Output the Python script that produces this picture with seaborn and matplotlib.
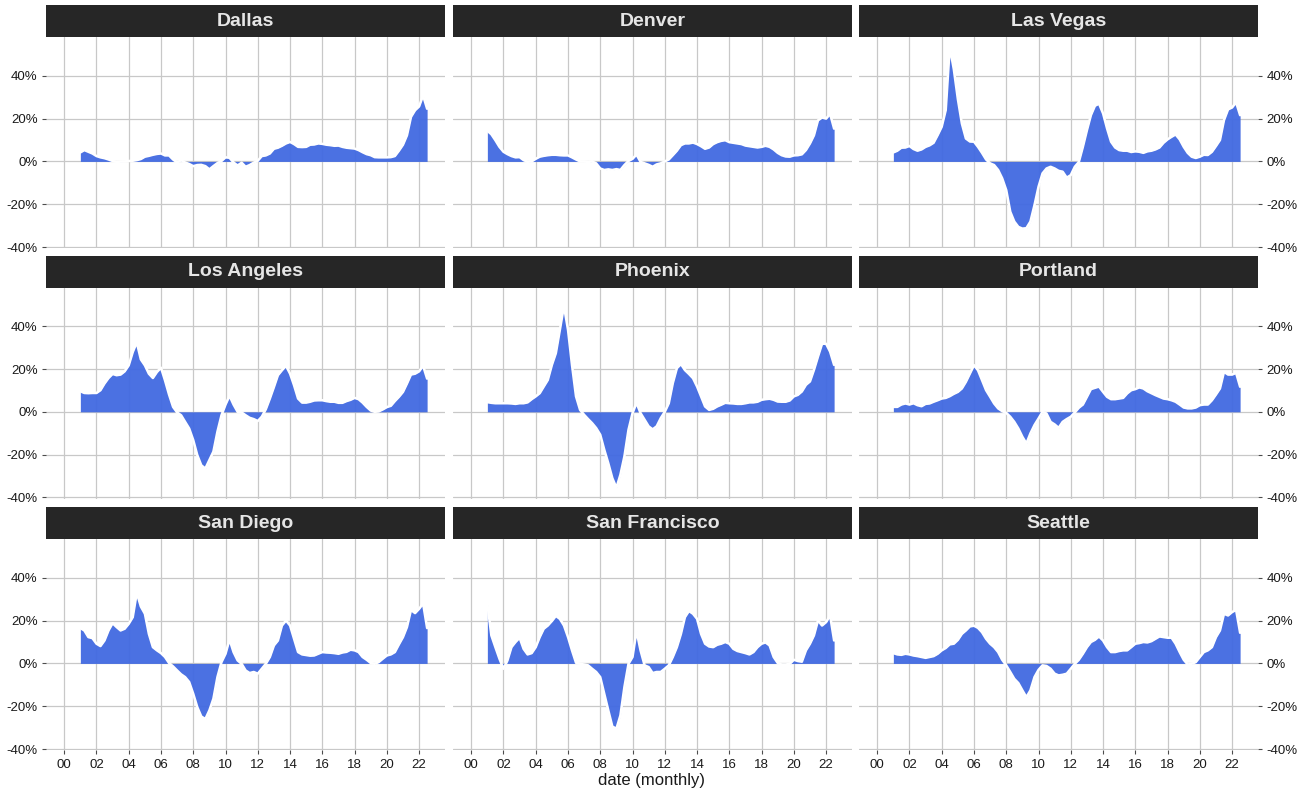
import numpy as np
import pandas as pd
import matplotlib
matplotlib.use("Agg")
import matplotlib.pyplot as plt
from matplotlib.patches import Rectangle
import seaborn as sns

# ---- data: year-over-year change in home prices (%), quarterly, Jan 2001 .. Jul 2022
cities = ["Dallas", "Denver", "Las Vegas",
          "Los Angeles", "Phoenix", "Portland",
          "San Diego", "San Francisco", "Seattle"]

dates = pd.date_range("2001-01-01", "2022-07-01", freq="QS")

dallas = [4.2, 5.3, 4.5, 3.7, 2.5, 1.9, 1.5, 0.9, 0.2, -0.3, -0.1, 0.0,
          0.2, 0.3, 0.6, 1.1, 2.2, 2.6, 3.1, 3.5, 3.7, 2.8, 2.8, 0.9,
          -0.5, 0.5, -0.5, -1.2, -2.2, -1.7, -1.6, -2.2, -3.7, -2.2, -0.8, 0.2,
          1.9, 1.7, -0.5, -1.9, -0.6, -2.5, -1.7, -0.6, 0.3, 2.5, 2.8, 3.7,
          5.9, 6.4, 7.3, 8.4, 9.1, 8.1, 6.8, 6.7, 6.8, 7.8, 7.9, 8.4,
          8.2, 7.8, 7.6, 7.3, 7.4, 6.8, 6.4, 6.2, 6.0, 5.3, 4.3, 3.4,
          2.9, 2.0, 1.9, 1.9, 1.9, 2.0, 2.5, 5.0, 7.8, 12.2, 20.8, 23.9,
          25.7, 30.8, 24.6]

denver = [14.3, 12.7, 9.9, 6.8, 4.5, 3.4, 2.5, 1.9, 2.0, 0.6, -0.2, 0.0,
          1.2, 2.2, 2.6, 2.9, 3.1, 3.1, 2.9, 2.8, 2.8, 1.9, 0.9, 0.0,
          0.0, -0.3, 0.0, -0.9, -3.3, -4.0, -3.7, -4.0, -3.6, -4.0, -1.7, 0.2,
          1.2, 3.2, -0.2, -0.9, -1.6, -2.5, -1.4, -0.9, 0.0, 0.9, 2.9, 5.0,
          7.6, 8.4, 8.4, 8.8, 8.1, 7.1, 5.9, 6.5, 8.1, 9.0, 9.6, 9.9,
          9.0, 8.7, 8.4, 8.1, 7.4, 7.1, 6.8, 6.5, 6.8, 7.3, 6.8, 5.6,
          4.0, 2.9, 2.3, 2.2, 2.8, 2.9, 3.3, 5.3, 8.4, 12.2, 19.2, 20.5,
          20.0, 22.2, 15.3]

las_vegas = [4.2, 5.0, 6.4, 6.5, 7.2, 5.8, 5.0, 5.6, 6.8, 7.5, 8.7, 12.3,
             16.2, 24.0, 53.5, 43.0, 29.0, 17.7, 10.7, 9.3, 9.2, 6.8, 4.0, 0.9,
             -0.9, -1.7, -4.0, -7.9, -13.4, -23.5, -28.1, -30.6, -31.4, -31.2, -28.1, -20.4,
             -11.8, -5.6, -3.3, -2.5, -3.3, -4.4, -4.8, -7.6, -6.4, -2.5, -0.3, 6.8,
             14.6, 21.6, 26.0, 27.0, 22.4, 15.4, 9.2, 6.5, 5.3, 5.0, 5.0, 4.4,
             4.7, 4.5, 4.0, 4.7, 5.0, 5.6, 6.5, 8.7, 10.3, 11.5, 12.6, 10.3,
             6.8, 4.0, 2.2, 1.6, 2.2, 3.1, 3.0, 4.5, 7.2, 10.0, 19.3, 24.3,
             25.2, 27.6, 21.6]

los_angeles = [9.6, 8.8, 8.7, 8.8, 8.8, 10.1, 13.2, 15.8, 17.7, 17.1, 17.4, 18.9,
               21.7, 27.9, 32.5, 24.5, 21.7, 17.8, 15.8, 18.6, 20.6, 14.7, 8.1, 2.3,
               -0.3, -1.6, -4.7, -7.8, -13.2, -20.2, -25.0, -26.5, -22.5, -18.6, -9.3, -1.6,
               3.4, 7.5, 3.4, 0.0, -0.3, -1.6, -2.8, -3.4, -4.3, -2.3, 1.2, 6.2,
               11.6, 17.1, 19.4, 21.5, 17.8, 12.4, 6.2, 4.3, 4.3, 4.7, 5.3, 5.4,
               5.4, 5.0, 4.7, 4.7, 4.2, 4.2, 5.0, 5.6, 6.5, 5.9, 4.3, 2.3,
               0.6, 0.0, 0.2, 1.1, 2.2, 2.8, 5.0, 7.0, 9.3, 13.2, 17.4, 17.8,
               18.9, 21.5, 15.5]

phoenix = [4.5, 4.2, 4.0, 4.0, 4.0, 4.0, 3.9, 3.7, 4.0, 4.0, 4.4, 5.9,
           7.2, 8.7, 11.8, 14.9, 21.9, 27.4, 38.3, 49.5, 38.3, 21.9, 7.2, 0.9,
           -1.4, -3.4, -5.3, -7.6, -10.7, -17.7, -24.0, -31.0, -35.5, -29.4, -20.8, -8.4,
           -0.6, 4.2, -0.6, -3.7, -6.8, -8.2, -6.8, -3.0, 0.0, 4.0, 13.4, 20.4,
           22.3, 19.5, 17.7, 15.7, 11.8, 7.2, 2.5, 0.9, 1.4, 2.5, 3.3, 4.2,
           4.0, 3.9, 3.7, 3.7, 4.0, 4.4, 4.4, 4.7, 5.6, 5.9, 6.1, 5.6,
           4.8, 4.7, 4.7, 5.3, 7.2, 7.9, 9.5, 12.6, 14.2, 19.6, 25.8, 31.8,
           31.8, 28.1, 21.9]

portland = [2.3, 2.3, 3.4, 3.9, 3.4, 4.0, 3.1, 2.6, 3.7, 3.9, 4.7, 5.4,
            6.2, 6.5, 7.3, 8.4, 9.3, 10.9, 14.0, 17.9, 21.8, 19.4, 14.8, 10.1,
            7.0, 3.9, 1.6, 0.3, -0.5, -2.3, -4.7, -7.8, -11.7, -14.8, -10.1, -6.2,
            -3.1, 0.0, -0.8, -4.7, -5.9, -7.5, -4.7, -3.4, -2.3, -0.3, 1.9, 3.4,
            7.0, 10.6, 11.2, 11.8, 9.3, 7.0, 5.9, 5.9, 6.2, 6.5, 8.6, 10.1,
            10.6, 11.4, 10.9, 9.6, 8.7, 7.8, 7.0, 6.2, 5.9, 5.4, 4.7, 3.4,
            2.0, 1.6, 1.6, 2.0, 3.1, 3.4, 3.4, 5.4, 8.1, 10.9, 18.7, 17.4,
            17.4, 18.2, 11.7]

san_diego = [16.5, 15.4, 12.3, 11.8, 9.2, 8.1, 10.7, 15.4, 18.8, 17.0, 15.4, 16.2,
             18.5, 21.6, 33.0, 26.6, 23.2, 13.8, 7.6, 6.1, 4.8, 3.0, 0.2, -1.4,
             -3.3, -5.1, -6.4, -8.7, -14.2, -20.4, -24.8, -26.0, -21.9, -16.5, -6.4, 0.6,
             4.5, 11.2, 5.3, 1.4, -0.2, -3.3, -4.5, -4.0, -4.8, -2.5, -0.2, 3.0,
             8.4, 10.7, 17.7, 20.0, 17.7, 11.5, 5.3, 4.2, 3.9, 3.6, 3.7, 4.5,
             5.3, 5.1, 5.0, 4.8, 4.5, 5.1, 5.4, 6.4, 6.1, 5.3, 3.0, 1.7,
             0.2, -0.2, 0.6, 2.2, 3.7, 4.2, 5.3, 8.9, 12.3, 17.0, 25.0, 23.5,
             25.5, 28.0, 16.5]

san_francisco = [28.0, 13.1, 7.6, 2.2, -2.5, 1.4, 7.6, 10.0, 12.0, 6.8, 4.2, 4.8,
                 7.6, 12.3, 16.2, 17.7, 19.8, 22.2, 20.8, 17.7, 12.3, 6.1, 0.3, -0.2,
                 -0.5, -0.9, -2.5, -4.0, -6.4, -14.2, -21.9, -29.5, -30.5, -24.3, -11.0, -0.2,
                 3.0, 15.2, 6.1, -0.9, -1.7, -4.5, -4.0, -4.0, -2.5, -0.9, 3.0, 7.6,
                 13.8, 21.6, 24.5, 23.2, 20.8, 13.8, 9.2, 7.9, 7.6, 8.7, 9.2, 10.0,
                 9.2, 6.8, 5.8, 5.3, 4.8, 4.2, 5.3, 7.6, 9.2, 9.8, 8.4, 3.0,
                 0.2, -0.5, -0.5, -0.2, 1.7, 1.1, 0.8, 6.1, 9.2, 13.1, 20.1, 17.7,
                 19.3, 22.4, 10.7]

seattle = [4.8, 4.2, 4.0, 4.5, 4.2, 3.7, 3.4, 3.0, 2.6, 3.0, 3.4, 4.5,
           6.1, 7.2, 8.9, 9.2, 11.0, 13.8, 15.4, 17.3, 17.6, 16.6, 14.6, 11.5,
           9.2, 7.6, 5.3, 1.7, -0.9, -4.0, -7.2, -9.2, -12.6, -15.8, -12.6, -6.4,
           -3.0, -0.9, -1.2, -2.5, -4.8, -5.6, -5.3, -4.8, -2.5, -0.2, 1.7, 4.5,
           7.6, 10.0, 11.0, 12.6, 10.7, 7.6, 5.3, 5.3, 5.8, 6.1, 6.1, 7.6,
           9.2, 9.5, 10.0, 9.8, 10.4, 11.5, 12.6, 12.3, 12.0, 12.0, 9.2, 5.3,
           1.7, -0.5, -0.2, 0.6, 3.0, 5.3, 6.1, 7.6, 12.3, 15.4, 23.2, 22.4,
           24.0, 25.0, 14.3]

series = [dallas, denver, las_vegas, los_angeles, phoenix, portland,
          san_diego, san_francisco, seattle]

tick_years = list(range(2000, 2023, 2))
tick_labels = ["00", "02", "04", "06", "08", "10", "12", "14", "16", "18", "20", "22"]
y_ticks = [-40, -20, 0, 20, 40]
y_labels = ["-40%", "-20%", "0%", "20%", "40%"]

df = pd.concat(
    [pd.DataFrame({"city": c, "date": dates, "change": v}) for c, v in zip(cities, series)],
    ignore_index=True,
)

# ---- style
FILL = "#4169E1"
STRIP = "#262626"
GRID = "#c8c8c8"

sns.set_theme(style="white")
plt.rcParams["font.family"] = ["Liberation Sans", "DejaVu Sans"]
plt.rcParams["axes.unicode_minus"] = False


def draw_area(data, **kws):
    ax = plt.gca()
    ax.fill_between(data["date"], 0, data["change"], color=FILL, alpha=0.95,
                    linewidth=0, zorder=2)
    sns.lineplot(data=data, x="date", y="change", color="white", linewidth=1.8,
                 ax=ax, zorder=3)


g = sns.FacetGrid(df, col="city", col_wrap=3, col_order=cities,
                  sharex=True, sharey=True, height=2.5, aspect=1.6, despine=False)
g.map_dataframe(draw_area)
g.set_titles("")
g.set_axis_labels("", "")

fig = g.figure
fig.set_size_inches(13.05, 7.93)
W, H = 1305.0, 793.0

col_left = [46, 453, 859]
col_w = 399
row_top = [37.3, 287.7, 539.3]
row_h = 211
strip_h = 32

x_ticks = [pd.Timestamp(f"{y}-01-01") for y in tick_years]

for i, ax in enumerate(g.axes.flat):
    r, c = divmod(i, 3)
    ax.set_position([col_left[c] / W, 1 - (row_top[r] + row_h) / H, col_w / W, row_h / H])
    ax.set_xlim(pd.Timestamp("1998-11-15"), pd.Timestamp("2023-08-10"))
    ax.set_ylim(-40.6, 58.0)
    ax.set_xticks(x_ticks)
    ax.set_xticklabels(tick_labels)
    ax.set_yticks(y_ticks)
    ax.set_yticklabels(y_labels)
    ax.set_xlabel("")
    ax.set_ylabel("")
    for s in ax.spines.values():
        s.set_visible(False)
    ax.grid(True, color=GRID, linewidth=0.9)
    ax.set_axisbelow(True)
    ax.tick_params(axis="both", length=3, width=0.8, color="#4d4d4d",
                   labelsize=9.5, labelcolor="#1a1a1a", pad=3)
    ax.tick_params(axis="x", bottom=(r == 2), labelbottom=(r == 2))
    if c == 0:
        ax.tick_params(axis="y", left=True, labelleft=True, right=False, labelright=False)
    elif c == 2:
        ax.yaxis.tick_right()
        ax.tick_params(axis="y", left=False, labelleft=False, right=True, labelright=True)
    else:
        ax.tick_params(axis="y", left=False, labelleft=False, right=False, labelright=False)

    # dark strip with the city name
    ax.add_patch(Rectangle((0, 1), 1, strip_h / row_h, transform=ax.transAxes,
                           facecolor=STRIP, edgecolor="none", clip_on=False, zorder=5))
    ax.text(0.5, 1 + strip_h / row_h / 2, cities[i], transform=ax.transAxes,
            ha="center", va="center", fontsize=14, fontweight="bold",
            color="#e6e6e6", zorder=6)

fig.text(652 / W, 1 - 781 / H, "date (monthly)", ha="center", va="center",
         fontsize=12, color="#1a1a1a")

fig.savefig("out.png", dpi=100, facecolor="white")
